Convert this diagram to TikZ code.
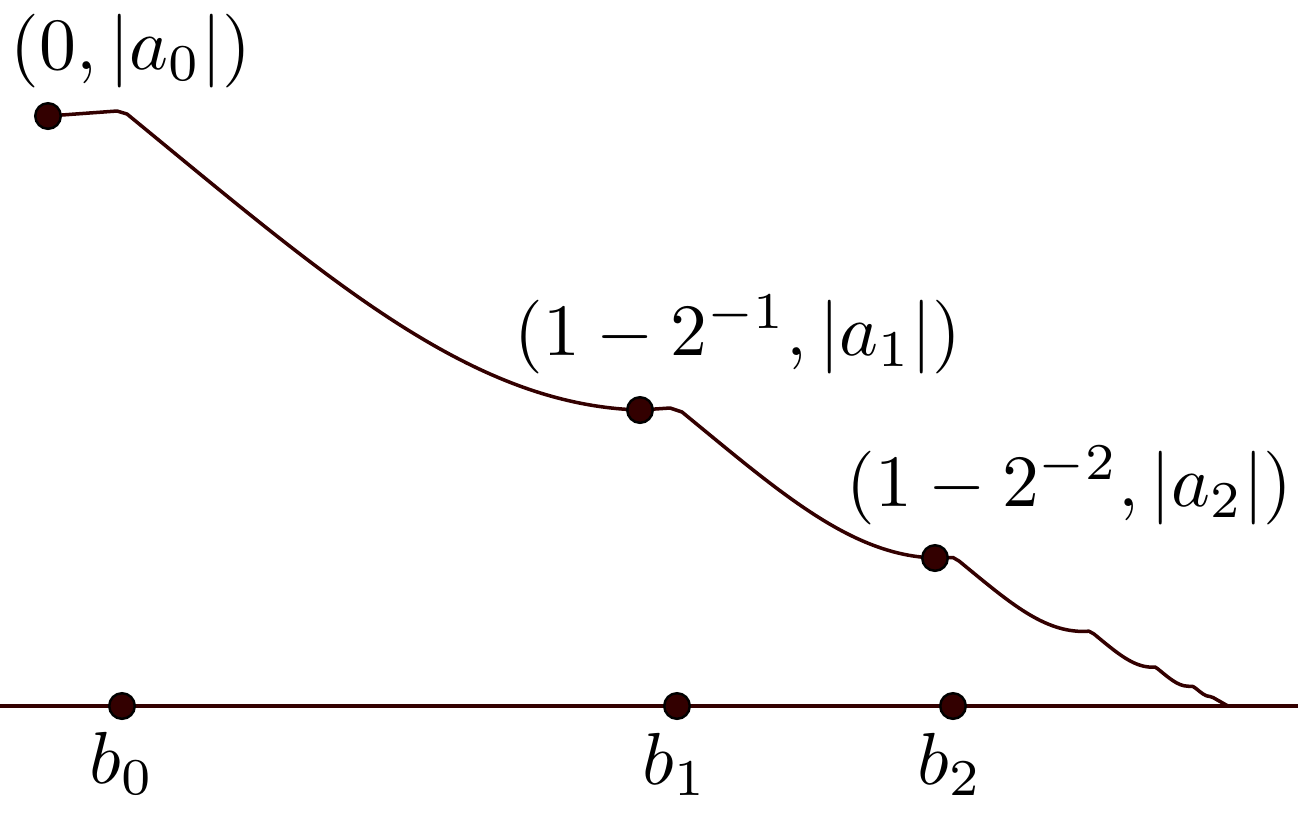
\documentclass[tikz,border=0pt]{standalone}
\definecolor{curvecol}{RGB}{51,0,0}
\tikzset{
  dotnode/.style={circle, fill=curvecol, draw=black, line width=0.35pt, minimum size=0.128cm, inner sep=0pt},
  lab/.style={inner sep=0pt, anchor=base, scale=1.05},
  curveline/.style={draw=curvecol, line width=0.5pt, line join=round, line cap=round},
}
\begin{document}
\begin{tikzpicture}[x=0.005cm, y=-0.005cm]
\useasboundingbox (0,0) rectangle (1298,820);
% key points
\coordinate (L) at (0,706);
\coordinate (R) at (1298,706);
\coordinate (p0) at (48,116);
\coordinate (p1) at (640,410);
\coordinate (p2) at (935,558);
\coordinate (end) at (1228,706);
% axis
\draw[curveline] (L) -- (R);
% curve
\draw[curveline] (p0) -- (117,111) -- (127,114)
  .. controls (327,278) and (470,405) .. (p1)
  -- (670,408) -- (682,412)
  .. controls (780.6,492.9) and (851.1,555.5) .. (p2)
  -- (953,557.5) -- (959,561)
  .. controls (1006.6,600) and (1040.6,630.3) .. (1081.1,631.4)
  -- (1089,631.2) -- (1094,634)
  .. controls (1116.4,652.4) and (1132.4,666.6) .. (1151.5,667.2)
  -- (1155,667) -- (1158,669)
  .. controls (1169.6,678.5) and (1177.9,685.9) .. (1187.8,686.2)
  -- (1193,686.5) -- (1196,688.5)
  .. controls (1201.4,692.9) and (1205.3,696.4) .. (1209.9,696.5)
  -- (1213,697.5) -- (end);
% dots
\node[dotnode] (a0) at (p0) {};
\node[dotnode] (a1) at (p1) {};
\node[dotnode] (a2) at (p2) {};
\node[dotnode] (b0) at (122,706) {};
\node[dotnode] (b1) at (677,706) {};
\node[dotnode] (b2) at (953,706) {};
% labels
\node[lab] (la0) at (131,69) {$(0,|a_0|)$};
\node[lab] (la1) at (738,355) {$(1-2^{-1},|a_1|)$};
\node[lab] (la2) at (1069.5,506) {$(1-2^{-2},|a_2|)$};
\node[lab] (lb0) at (122,783) {$b_0$};
\node[lab] (lb1) at (675,784) {$b_1$};
\node[lab] (lb2) at (950,784) {$b_2$};
\end{tikzpicture}
\end{document}
